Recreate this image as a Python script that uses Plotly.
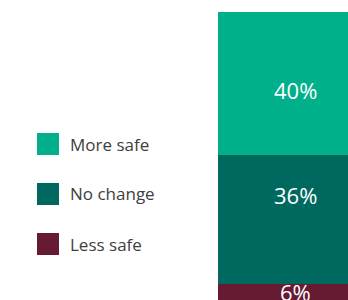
import plotly.graph_objects as go

categories = ["More safe", "No change", "Less safe"]
values = [40, 36, 6]
labels = ["40%", "36%", "6%"]
colors = ["#00B08A", "#00695F", "#661B33"]

W, H = 348, 300
FONT = "Open Sans"
# small pixel nudges of the value labels, to match the original's placement
LABEL_NUDGE = {"More safe": -6, "No change": 25, "Less safe": 3}

fig = go.Figure()
order = list(reversed(range(len(categories))))  # stack bottom-up
cum = 0
for i in order:
    fig.add_trace(go.Bar(
        x=[0], y=[values[i]], width=1, name=categories[i],
        marker=dict(color=colors[i], line=dict(width=0)),
        showlegend=False, hoverinfo="skip",
    ))
    mid = cum + values[i] / 2
    cum += values[i]
    fig.add_annotation(x=0, y=mid, xref="x", yref="y", text=labels[i],
                       showarrow=False, yshift=LABEL_NUDGE[categories[i]],
                       font=dict(color="white", size=22, family=FONT))

# custom legend
leg_top, leg_step, sq = 144, 50, 22
for k, cat in enumerate(categories):
    cy = leg_top + leg_step * k
    fig.add_shape(type="rect", xref="paper", yref="paper",
                  x0=37 / W, x1=(37 + sq) / W,
                  y0=1 - (cy + sq / 2) / H, y1=1 - (cy - sq / 2) / H,
                  fillcolor=colors[k], line=dict(width=0))
    fig.add_annotation(x=68 / W, y=1 - cy / H, xref="paper", yref="paper",
                       text=cat, showarrow=False, xanchor="left", yanchor="middle",
                       font=dict(color="#404040", size=17, family=FONT))

fig.update_layout(
    width=W, height=H, barmode="stack",
    margin=dict(l=0, r=0, t=0, b=0),
    paper_bgcolor="white", plot_bgcolor="white",
    xaxis=dict(range=[-1.916, 0.344], visible=False, fixedrange=True),
    yaxis=dict(range=[1.6, 85.3], visible=False, fixedrange=True),
    showlegend=False,
)
fig.write_html("out.html", config={"displayModeBar": False},
               post_script="document.body.style.margin='0';document.body.style.overflow='hidden';")
